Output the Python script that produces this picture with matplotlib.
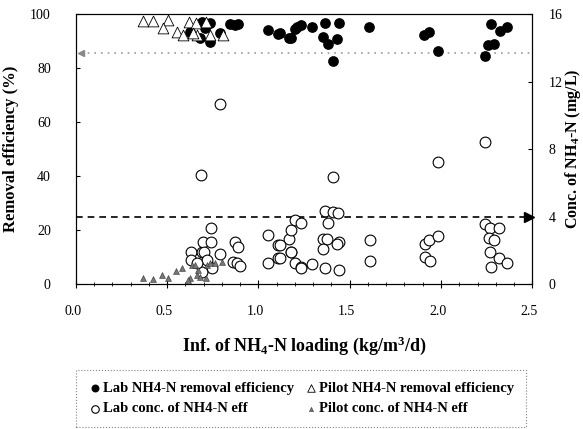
import matplotlib.pyplot as plt
import matplotlib.transforms as mtransforms
from matplotlib.ticker import MultipleLocator

plt.rcParams["font.family"] = ["Liberation Serif", "DejaVu Serif"]
plt.rcParams["mathtext.fontset"] = "custom"
plt.rcParams["mathtext.rm"] = "Liberation Serif"
plt.rcParams["mathtext.bf"] = "Liberation Serif:bold"
plt.rcParams["mathtext.default"] = "bf"

# Lab NH4-N removal efficiency (%)
lab_rem_x = [0.626, 0.692, 0.709, 0.736, 0.681, 0.736, 0.791, 0.846, 0.874, 0.890,
             1.055, 1.110, 1.170, 1.121, 1.181, 1.203, 1.214, 1.236, 1.291, 1.363,
             1.352, 1.379, 1.440, 1.429, 1.407, 1.604, 1.907, 1.934, 1.984, 2.242,
             2.258, 2.291, 2.275, 2.324, 2.363]
lab_rem_y = [93.3, 97.0, 94.8, 96.7, 91.1, 89.6, 93.0, 96.3, 95.9, 96.3,
             94.1, 92.6, 91.1, 93.0, 91.1, 94.4, 95.2, 95.9, 95.2, 96.7,
             91.5, 88.9, 96.7, 90.7, 82.6, 95.2, 92.2, 93.3, 86.3, 84.4,
             88.5, 88.9, 96.3, 93.7, 95.2]

# Pilot NH4-N removal efficiency (%)
pilot_rem_x = [0.368, 0.423, 0.505, 0.478, 0.555, 0.588, 0.621, 0.659, 0.665,
               0.714, 0.736, 0.808, 0.643]
pilot_rem_y = [97.4, 97.4, 97.8, 94.8, 93.3, 92.2, 97.0, 96.7, 92.2,
               97.0, 92.2, 92.2, 93.0]

# Lab conc. of NH4-N eff (mg/L)
lab_conc_x = [0.687, 0.791, 0.632, 0.632, 0.692, 0.698, 0.703, 0.742, 0.742, 0.720,
              0.747, 0.692, 0.791, 0.874, 0.890, 0.863, 0.885, 0.901, 1.055, 1.055,
              1.110, 1.110, 1.170, 1.176, 0.665, 1.407, 1.984, 2.242, 1.121, 1.121,
              1.181, 1.203, 1.236, 1.181, 1.203, 1.236, 1.291, 1.363, 1.407, 1.434,
              1.379, 1.352, 1.374, 1.352, 1.440, 1.429, 1.363, 1.440, 1.610, 1.610,
              1.912, 1.934, 1.984, 1.912, 1.940, 2.242, 2.269, 2.319, 2.264, 2.291,
              2.269, 2.319, 2.363, 2.275, 1.231]
lab_conc_y = [6.46, 10.67, 1.90, 1.42, 1.90, 2.49, 1.90, 3.32, 2.49, 1.42,
              0.95, 0.71, 1.78, 2.49, 2.19, 1.30, 1.24, 1.07, 2.90, 1.24,
              2.31, 1.54, 2.67, 1.90, 1.24, 6.34, 7.23, 8.41, 2.31, 1.54,
              3.20, 3.79, 3.61, 1.90, 1.24, 1.01, 1.19, 4.33, 4.27, 4.21,
              3.61, 2.67, 2.67, 2.07, 2.49, 2.37, 0.95, 0.83, 2.61, 1.36,
              2.37, 2.61, 2.84, 1.60, 1.36, 3.56, 3.32, 3.32, 2.73, 2.61,
              1.90, 1.54, 1.24, 1.01, 0.95]

# Pilot conc. of NH4-N eff (mg/L)
pilot_conc_x = [0.368, 0.423, 0.473, 0.505, 0.549, 0.582, 0.626, 0.637, 0.654,
                0.665, 0.681, 0.714, 0.720, 0.736, 0.764, 0.802, 0.615, 0.670]
pilot_conc_y = [0.36, 0.30, 0.53, 0.36, 0.77, 0.95, 0.36, 1.13, 1.13,
                0.53, 0.41, 0.36, 1.13, 1.24, 1.24, 1.30, 0.24, 0.83]

# reference lines
rem_target = 85.5   # %
conc_limit = 4.0    # mg/L

fig = plt.figure(figsize=(5.83, 4.29), dpi=100)
ax = fig.add_axes([0.130, 0.338, 0.783, 0.629])
ax2 = ax.twinx()

ax.plot([0.03, 2.5], [rem_target, rem_target], linestyle=(0, (1, 3)), color="#999999", lw=1.2)
ax.plot([0.03], [rem_target], marker="<", color="#888888", ms=5, clip_on=False)

ax.scatter(lab_rem_x, lab_rem_y, s=45, color="black", zorder=3,
           label="Lab NH4-N removal efficiency")
ax.scatter(pilot_rem_x, pilot_rem_y, s=60, marker="^", facecolor="white",
           edgecolor="black", linewidths=0.6, zorder=3, clip_on=False,
           label="Pilot NH4-N removal efficiency")

ax2.plot([0.0, 2.48], [conc_limit, conc_limit], linestyle=(0, (4, 3)), color="black", lw=1.2)
ax2.plot([2.48], [conc_limit], marker=">", color="black", ms=7, clip_on=False)
ax2.scatter(lab_conc_x, lab_conc_y, s=60, facecolor="white", edgecolor="black",
            linewidths=0.8, zorder=3, label="Lab conc. of NH4-N eff")
ax2.scatter(pilot_conc_x, pilot_conc_y, s=18, marker="^", color="#777777",
            edgecolor="#333333", linewidths=0.4, zorder=4, clip_on=False,
            label="Pilot conc. of NH4-N eff")

ax.set_xlim(0, 2.5)
ax.set_ylim(0, 100)
ax2.set_ylim(0, 16)
ax.set_xticks([0.0, 0.5, 1.0, 1.5, 2.0, 2.5])
ax.set_xticklabels(["0.0", "0.5", "1.0", "1.5", "2.0", "2.5"])
ax.xaxis.set_minor_locator(MultipleLocator(0.1))
ax.set_yticks([0, 20, 40, 60, 80, 100])
ax2.set_yticks([0, 4, 8, 12, 16])

ax.tick_params(axis="x", which="major", direction="inout", length=6, labelsize=10, pad=12)
ax.tick_params(axis="x", which="minor", direction="inout", length=3)
ax.tick_params(axis="y", direction="in", length=3, labelsize=10, pad=18)
ax2.tick_params(axis="y", direction="in", length=3, labelsize=10, pad=12)

offset = mtransforms.ScaledTranslation(-0.03, 0, fig.dpi_scale_trans)
for lbl in ax.get_xticklabels():
    lbl.set_transform(lbl.get_transform() + offset)

for a in (ax, ax2):
    for sp in a.spines.values():
        sp.set_linewidth(0.8)

ax.set_xlabel("Inf. of NH$_4$-N loading (kg/m$^3$/d)", fontsize=13, fontweight="bold", labelpad=12)
ax.set_ylabel("Removal efficiency (%)", fontsize=12, fontweight="bold", labelpad=8)
ax2.set_ylabel("Conc. of NH$_4$-N (mg/L)", fontsize=11.5, fontweight="bold", labelpad=0)

h1, l1 = ax.get_legend_handles_labels()
h2, l2 = ax2.get_legend_handles_labels()
handles = [h1[0], h2[0], h1[1], h2[1]]
labels = [l1[0], l2[0], l1[1], l2[1]]
leg = fig.legend(handles, labels, ncol=2, loc="upper left", bbox_to_anchor=(0.130, 0.1375),
                 borderaxespad=0, prop={"weight": "bold", "size": 10.5}, frameon=True,
                 fancybox=False, handletextpad=0.1, columnspacing=0.6, markerscale=0.7,
                 borderpad=0.8, labelspacing=0.5, handlelength=1.0)
leg.get_frame().set_edgecolor("#666666")
leg.get_frame().set_linestyle(":")
leg.get_frame().set_linewidth(0.8)

fig.savefig("out.png", dpi=100)
